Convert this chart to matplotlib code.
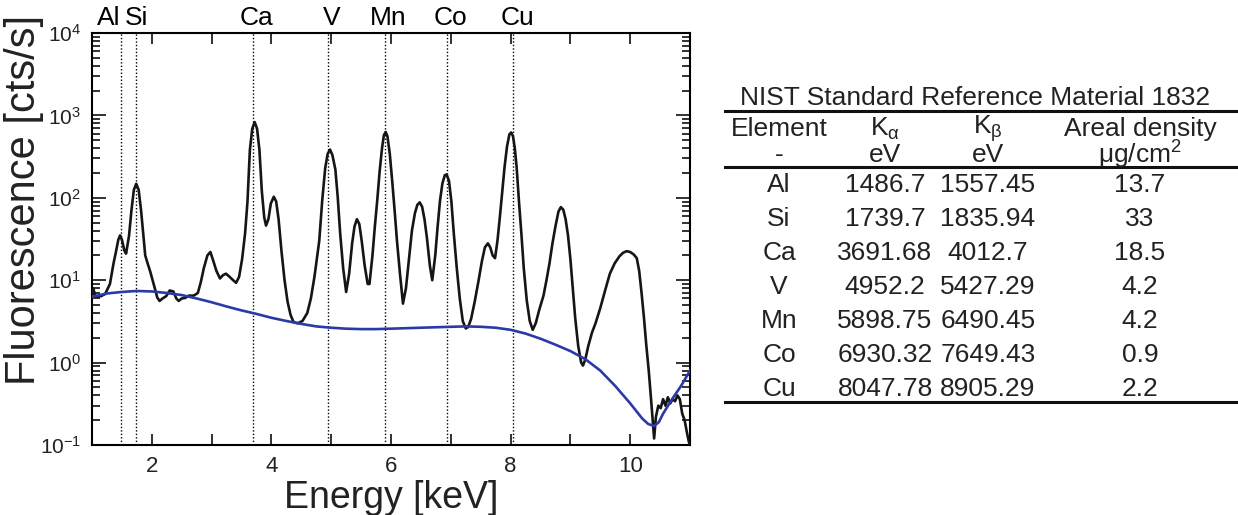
import numpy as np
import matplotlib
matplotlib.use("Agg")
import matplotlib.pyplot as plt
from matplotlib.lines import Line2D
from matplotlib.ticker import LogLocator, FixedLocator, NullFormatter

plt.rcParams["font.family"] = ["Liberation Sans", "DejaVu Sans"]
plt.rcParams["mathtext.fontset"] = "custom"
plt.rcParams["mathtext.rm"] = "Liberation Sans"
plt.rcParams["mathtext.it"] = "Liberation Sans:italic"
plt.rcParams["mathtext.default"] = "regular"

# -------------------------------
# Data
# -------------------------------
# measured XRF spectrum (keV, cts/s)
energy = [1.00, 1.02, 1.06, 1.15, 1.22, 1.30, 1.36, 1.40, 1.44, 1.47, 1.50, 1.54,
          1.57, 1.62, 1.66, 1.70, 1.74, 1.78, 1.82, 1.86, 1.89, 1.93, 1.97, 2.04,
          2.09, 2.13, 2.18, 2.24, 2.30, 2.36, 2.41, 2.45, 2.50, 2.56, 2.62, 2.70,
          2.77, 2.82, 2.87, 2.93, 2.98, 3.03, 3.08, 3.14, 3.19, 3.24, 3.30, 3.36,
          3.41, 3.46, 3.51, 3.56, 3.60, 3.64, 3.68, 3.72, 3.76, 3.80, 3.84, 3.88,
          3.91, 3.95, 3.99, 4.04, 4.08, 4.12, 4.17, 4.22, 4.27, 4.32, 4.37, 4.44,
          4.52, 4.60, 4.66, 4.72, 4.76, 4.80, 4.85, 4.90, 4.94, 4.98, 5.02, 5.07,
          5.11, 5.15, 5.20, 5.25, 5.30, 5.35, 5.39, 5.43, 5.47, 5.51, 5.56, 5.61,
          5.64, 5.69, 5.73, 5.77, 5.81, 5.85, 5.88, 5.91, 5.94, 5.98, 6.02, 6.06,
          6.10, 6.15, 6.20, 6.25, 6.30, 6.35, 6.40, 6.44, 6.48, 6.52, 6.56, 6.60,
          6.65, 6.69, 6.74, 6.78, 6.82, 6.86, 6.90, 6.93, 6.97, 7.01, 7.05, 7.10,
          7.15, 7.20, 7.25, 7.29, 7.34, 7.40, 7.46, 7.52, 7.57, 7.62, 7.66, 7.70,
          7.74, 7.78, 7.82, 7.86, 7.90, 7.94, 7.98, 8.01, 8.04, 8.07, 8.10, 8.14,
          8.18, 8.22, 8.27, 8.32, 8.37, 8.42, 8.48, 8.55, 8.60, 8.65, 8.70, 8.75,
          8.80, 8.84, 8.88, 8.92, 8.96, 9.00, 9.04, 9.08, 9.13, 9.18, 9.21, 9.25,
          9.30, 9.36, 9.42, 9.50, 9.58, 9.66, 9.74, 9.82, 9.88, 9.94, 10.00, 10.06,
          10.11, 10.15, 10.19, 10.23, 10.27, 10.31, 10.35, 10.38, 10.40, 10.43,
          10.47, 10.51, 10.55, 10.59, 10.63, 10.67, 10.71, 10.75, 10.79, 10.83,
          10.87, 10.91, 10.95, 10.98, 11.00]
counts = [6.5, 8.0, 6.3, 6.4, 6.8, 9, 16, 22, 31, 35, 31, 23,
          21, 35, 71, 125, 148, 125, 71, 35, 20, 16, 13, 8.5,
          6.2, 5.6, 6.0, 6.4, 7.5, 7.3, 6.0, 5.6, 6.0, 6.1, 6.5, 6.5,
          7.0, 9.5, 14, 20, 22, 17, 13, 10.5, 11.5, 12, 11, 10,
          9.3, 11, 18, 37, 90, 380, 690, 830, 690, 380, 120, 58,
          46, 55, 85, 103, 90, 55, 22, 10, 5.5, 3.8, 3.1, 3.0,
          3.2, 4.0, 6, 11, 18, 30, 93, 230, 340, 385, 330, 220,
          100, 37, 14, 7.2, 12, 28, 45, 55, 48, 30, 15, 9,
          9, 20, 45, 93, 210, 400, 570, 630, 560, 340, 160, 71,
          30, 12, 5.2, 8, 18, 40, 65, 82, 88, 78, 55, 33,
          15, 10, 20, 45, 93, 150, 188, 192, 160, 90, 37, 14,
          6, 3.2, 2.6, 2.7, 3.4, 5.5, 9.5, 17, 25, 28, 25, 20,
          18.5, 30, 58, 120, 240, 420, 590, 620, 560, 400, 240, 90,
          37, 14, 5.7, 3.2, 2.5, 3.0, 4.4, 6.5, 10, 16, 28, 45,
          68, 77, 72, 55, 35, 18, 8, 3.5, 1.6, 1.0, 0.92, 1.1,
          1.6, 2.3, 3.0, 4.6, 7.5, 12, 16, 19.5, 21.5, 22.5, 22, 20.5,
          18.5, 13, 7, 3.5, 1.6, 0.8, 0.35, 0.18, 0.12, 0.22,
          0.30, 0.28, 0.36, 0.30, 0.38, 0.32, 0.36, 0.34, 0.40, 0.36,
          0.24, 0.20, 0.14, 0.11, 0.10]

# fitted background (keV, cts/s)
bg_energy = [1.0, 1.25, 1.5, 1.75, 2.0, 2.25, 2.5, 2.75, 3.0, 3.25, 3.5, 3.75,
             4.0, 4.25, 4.5, 4.75, 5.0, 5.25, 5.5, 5.75, 6.0, 6.5, 7.0, 7.25,
             7.5, 7.75, 8.0, 8.25, 8.5, 8.75, 9.0, 9.25, 9.5, 9.75, 10.0, 10.2,
             10.3, 10.4, 10.48, 10.55, 10.7, 10.85, 11.0]
bg_counts = [6.3, 6.9, 7.2, 7.4, 7.3, 7.0, 6.6, 6.0, 5.4, 4.8, 4.3, 3.9,
             3.5, 3.2, 2.95, 2.75, 2.65, 2.58, 2.55, 2.55, 2.58, 2.65, 2.72, 2.75,
             2.72, 2.65, 2.5, 2.25, 1.95, 1.65, 1.38, 1.1, 0.8, 0.52, 0.32, 0.21,
             0.18, 0.17, 0.19, 0.24, 0.36, 0.52, 0.8]

# NIST SRM 1832 table
elements = ["Al", "Si", "Ca", "V", "Mn", "Co", "Cu"]
k_alpha = ["1486.7", "1739.7", "3691.68", "4952.2", "5898.75", "6930.32", "8047.78"]
k_beta = ["1557.45", "1835.94", "4012.7", "5427.29", "6490.45", "7649.43", "8905.29"]
areal_density = ["13.7", "33", "18.5", "4.2", "4.2", "0.9", "2.2"]

# -------------------------------
# Figure
# -------------------------------
W, H = 1238, 515
fig = plt.figure(figsize=(W / 100, H / 100), dpi=100)


def fx(px):
    return px / W


def fy(py):
    return 1 - py / H


ax = fig.add_axes([fx(92), fy(445), fx(690) - fx(92), fy(33) - fy(445)])

ax.plot(energy, counts, color="#151515", lw=1.9, zorder=3)
ax.plot(bg_energy, bg_counts, color="#2b3aa6", lw=1.9, zorder=4)

ax.set_yscale("log")
ax.set_xlim(1, 11)
ax.set_ylim(0.1, 1e4)

# Kalpha marker lines and labels
label_shift = {"Al": -0.2, "Si": 0.0}
for el, ka in zip(elements, k_alpha):
    e_kev = float(ka) / 1000
    ax.axvline(e_kev, color="black", lw=1.0, ls=(0, (1, 1.5)), zorder=2)
    ax.text(e_kev + label_shift.get(el, 0.06), 1.008, el, transform=ax.get_xaxis_transform(),
            ha="center", va="bottom", fontsize=19)

ax.xaxis.set_major_locator(FixedLocator([2, 4, 6, 8, 10]))
ax.xaxis.set_minor_locator(FixedLocator([1, 3, 5, 7, 9, 11]))
ax.yaxis.set_major_locator(LogLocator(base=10, numticks=10))
ax.yaxis.set_minor_locator(LogLocator(base=10, subs=np.arange(2, 10), numticks=10))
ax.yaxis.set_minor_formatter(NullFormatter())

ax.tick_params(axis="both", which="both", direction="in", top=True, right=True,
               width=1.3, labelsize=16, colors="#222222")
ax.tick_params(axis="x", which="both", length=8, pad=8)
ax.tick_params(axis="y", which="major", length=10, pad=8, labelsize=15)
ax.tick_params(axis="y", which="minor", length=6)
for s in ax.spines.values():
    s.set_linewidth(1.5)

ax.set_xlabel("Energy [keV]", fontsize=27, labelpad=2, color="#222222")
ax.set_ylabel("Fluorescence [cts/s]", fontsize=30, color="#222222")
ax.yaxis.set_label_coords(-0.08, 0.595)

# -------------------------------
# Table (drawn as figure text)
# -------------------------------
col_x = [779, 885, 988, 1140]
fs = 19

fig.text(fx(975), fy(98), "NIST Standard Reference Material 1832", ha="center", va="center",
         fontsize=fs, color="#222222")
for y in [111, 167, 402]:
    fig.add_artist(Line2D([fx(725), fx(1237)], [fy(y), fy(y)], color="#111111", lw=2.2))

header1 = ["Element", "K$_{α}$", "K$_{β}$", "Areal density"]
header2 = ["-", "eV", "eV", "μg/cm$^{2}$"]
for cx, h1, h2 in zip(col_x, header1, header2):
    fig.text(fx(cx), fy(129), h1, ha="center", va="center", fontsize=fs, color="#222222")
    fig.text(fx(cx), fy(155), h2, ha="center", va="center", fontsize=fs, color="#222222")

row_y = [185, 219, 253, 287, 321, 355, 389]
for ry, el, ka, kb, ad in zip(row_y, elements, k_alpha, k_beta, areal_density):
    for cx, txt in zip(col_x, [el, ka, kb, ad]):
        fig.text(fx(cx), fy(ry), txt, ha="center", va="center", fontsize=fs, color="#222222")

fig.savefig("out.png", dpi=100)
